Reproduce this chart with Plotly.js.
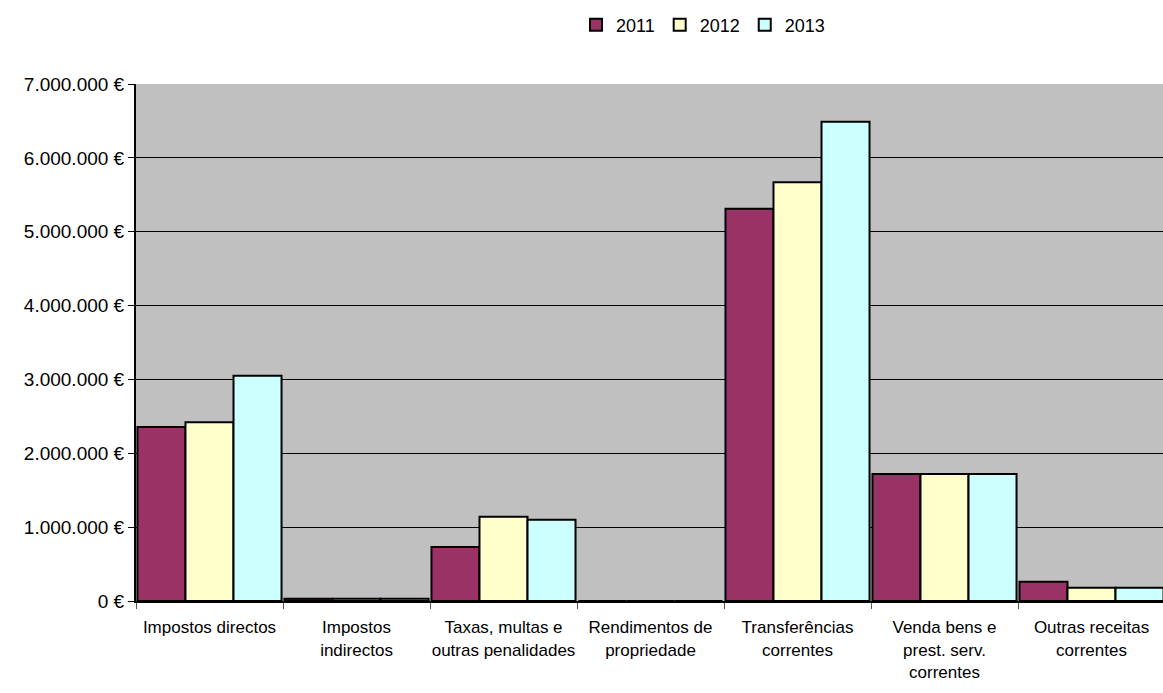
<!DOCTYPE html>
<html>
<head>
<meta charset="utf-8">
<script src="https://cdn.plot.ly/plotly-3.0.1.min.js"></script>
<style>
  body { margin: 0; overflow: hidden; background: #fff; }
  #chart { width: 1163px; height: 693px; }
</style>
</head>
<body>
<div id="chart"></div>
<script>
// receitas correntes por ano
var categories = [
    'Impostos directos',
    'Impostos<br>indirectos',
    'Taxas, multas e<br>outras penalidades',
    'Rendimentos de<br>propriedade',
    'Transferências<br>correntes',
    'Venda bens e<br>prest. serv.<br>correntes',
    'Outras receitas<br>correntes'
]
var years = ['2011', '2012', '2013']
var v2011 = [2355000, 30000, 730000, 0, 5310000, 1720000, 260000]
var v2012 = [2420000, 30000, 1140000, 0, 5670000, 1720000, 180000]
var v2013 = [3050000, 30000, 1100000, 0, 6490000, 1720000, 180000]
var colors = ['#993366', '#FFFFCC', '#CCFFFF']

var series = [v2011, v2012, v2013]
var traces = series.map(function (vals, i) {
    return {
        type: 'bar',
        name: years[i],
        x: categories,
        y: vals,
        marker: { color: colors[i], line: { color: '#000', width: 2 } },
        hoverinfo: 'skip'
    }
})

var fam = 'Liberation Sans, Arial, sans-serif'

var layout = {
    width: 1165,
    height: 693,
    margin: { l: 136, r: 0, t: 84, b: 92 },
    paper_bgcolor: '#fff',
    plot_bgcolor: '#C0C0C0',
    separators: ',.',
    font: { family: fam, size: 16, color: '#000' },
    barmode: 'group',
    bargap: 0.02,
    bargroupgap: 0,
    showlegend: true,
    legend: {
        orientation: 'h',
        x: 0.551, xanchor: 'center',
        y: 1.114, yanchor: 'middle',
        font: { family: fam, size: 18, color: '#000' },
        itemwidth: 20,
        tracegroupgap: 0
    },
    xaxis: {
        type: 'category',
        automargin: false,
        showline: true,
        linecolor: '#000',
        linewidth: 2,
        ticks: 'outside',
        ticklen: 6,
        tickcolor: '#555',
        tickson: 'boundaries',
        ticklabelstandoff: 10,
        showgrid: false,
        tickangle: 0,
        tickfont: { family: fam, size: 17, color: '#000' }
    },
    yaxis: {
        range: [0, 7000000],
        dtick: 1000000,
        tickformat: ',.0f',
        ticksuffix: ' €',
        automargin: false,
        showline: true,
        linecolor: '#000',
        linewidth: 2,
        ticks: 'outside',
        ticklen: 6,
        tickcolor: '#000',
        gridcolor: '#000',
        gridwidth: 1,
        zeroline: false,
        tickfont: { family: fam, size: 19, color: '#000' }
    }
}

Plotly.newPlot('chart', traces, layout, { displayModeBar: false, staticPlot: true })
</script>
</body>
</html>
